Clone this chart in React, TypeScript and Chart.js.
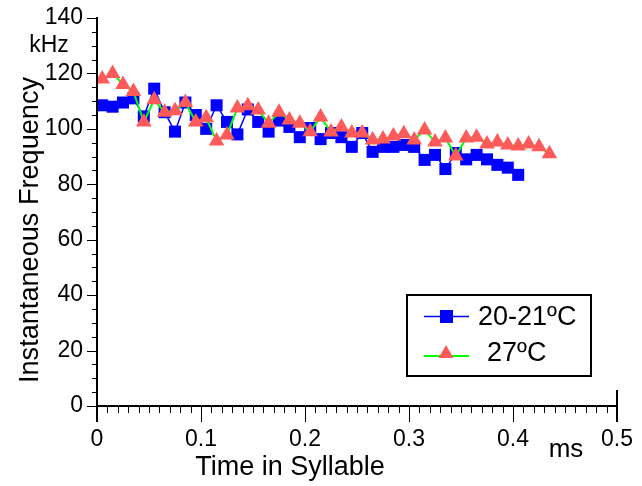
import React, { useEffect, useRef } from 'react';
import { Chart, registerables } from 'chart.js';

Chart.register(...registerables);

// Time in syllable (ms)
const times = [
  0.005, 0.015, 0.025, 0.035, 0.045, 0.055, 0.065, 0.075, 0.085, 0.095,
  0.105, 0.115, 0.125, 0.135, 0.145, 0.155, 0.165, 0.175, 0.185, 0.195,
  0.205, 0.215, 0.225, 0.235, 0.245, 0.255, 0.265, 0.275, 0.285, 0.295,
  0.305, 0.315, 0.325, 0.335, 0.345, 0.355, 0.365, 0.375, 0.385, 0.395,
  0.405, 0.415, 0.425, 0.435,
];

// 20-21ºC (kHz)
const coldValues = [
  108.5, 108, 109.5, 111, 104.5, 114.5, 106, 99, 109.5, 105,
  100, 108.5, 102.5, 98, 107, 102.5, 99, 103, 100.7, 97,
  100.3, 96.3, 98.5, 97, 93.5, 98.5, 91.7, 93.5, 93.5, 94.2,
  93.5, 88.8, 90.6, 85.5, 91.3, 89, 90.6, 89, 87, 86,
  83.4,
];

// 27ºC (kHz)
const warmValues = [
  118, 120, 116, 113.5, 102.5, 110.5, 106, 106.5, 109.5, 102.5,
  104, 95.6, 97.8, 107.5, 108.3, 106.8, 102, 106, 103.2, 102,
  99, 104.3, 98.9, 100.7, 98.5, 98.5, 96, 96.3, 97.4, 98.2,
  96, 99.6, 95.3, 96.7, 90.2, 96.7, 97, 94.5, 95.3, 94.2,
  93.8, 94.5, 93.5, 91,
];

const seriesLabels = ['20-21ºC', '27ºC'];
const xTitle = 'Time in Syllable';
const yTitle = 'Instantaneous Frequency';
const xUnit = 'ms';
const yUnit = 'kHz';

const FONT = '"Liberation Sans", Arial, sans-serif';
const BLUE = '#0000ff';
const GREEN = '#00ff00';
const RED = '#ff5a5a';

const decorPlugin = {
  id: 'decor',
  afterDraw(chart: any) {
    const ctx: CanvasRenderingContext2D = chart.ctx;
    const xs = chart.scales.x;
    const ys = chart.scales.y;
    const left = xs.getPixelForValue(0);
    const right = xs.getPixelForValue(0.5);
    const bottom = ys.getPixelForValue(0);
    const top = ys.getPixelForValue(140);
    ctx.save();
    ctx.strokeStyle = '#000';
    // ticks
    ctx.lineWidth = 1;
    for (let i = 0; i <= 50; i++) {
      const px = Math.round(xs.getPixelForValue(i / 100)) + 0.5;
      const len = i % 10 === 0 ? 16 : 7;
      ctx.beginPath();
      ctx.moveTo(px, bottom);
      ctx.lineTo(px, bottom + len);
      ctx.stroke();
    }
    for (let v = 0; v <= 140; v += 5) {
      const py = Math.round(ys.getPixelForValue(v)) + 0.5;
      const len = v % 20 === 0 ? 10 : 5;
      ctx.beginPath();
      ctx.moveTo(left, py);
      ctx.lineTo(left - len, py);
      ctx.stroke();
    }
    // axis lines
    ctx.lineWidth = 2;
    ctx.beginPath();
    ctx.moveTo(left, top - 1);
    ctx.lineTo(left, bottom + 16);
    ctx.moveTo(left - 1, bottom);
    ctx.lineTo(right + 1, bottom);
    ctx.moveTo(right, bottom - 16);
    ctx.lineTo(right, bottom + 16);
    ctx.stroke();

    // unit labels and titles
    ctx.fillStyle = '#000';
    ctx.textAlign = 'center';
    ctx.textBaseline = 'middle';
    ctx.font = `23px ${FONT}`;
    ctx.fillText(yUnit, 49, 46);
    ctx.font = `26px ${FONT}`;
    ctx.fillText(xUnit, 566, 450);
    ctx.font = `27px ${FONT}`;
    ctx.fillText(xTitle, 290, 468);
    // y title
    ctx.save();
    ctx.translate(31, 230);
    ctx.rotate(-Math.PI / 2);
    ctx.font = `27px ${FONT}`;
    const w = ctx.measureText(yTitle).width;
    ctx.scale(306 / w, 1);
    ctx.fillText(yTitle, 0, 0);
    ctx.restore();

    // legend
    const lx = 407, ly = 295, lw = 184, lh = 81;
    ctx.fillStyle = '#fff';
    ctx.fillRect(lx, ly, lw, lh);
    ctx.lineWidth = 2;
    ctx.strokeStyle = '#000';
    ctx.strokeRect(lx, ly, lw, lh);
    // row 1
    ctx.lineWidth = 1.5;
    ctx.strokeStyle = BLUE;
    ctx.beginPath();
    ctx.moveTo(424, 316.5);
    ctx.lineTo(469, 316.5);
    ctx.stroke();
    ctx.fillStyle = BLUE;
    ctx.fillRect(440, 310, 13, 13);
    // row 2
    ctx.strokeStyle = GREEN;
    ctx.lineWidth = 2;
    ctx.beginPath();
    ctx.moveTo(424, 356);
    ctx.lineTo(469, 356);
    ctx.stroke();
    ctx.fillStyle = RED;
    ctx.beginPath();
    ctx.moveTo(446, 345);
    ctx.lineTo(453.5, 358);
    ctx.lineTo(438.5, 358);
    ctx.closePath();
    ctx.fill();
    ctx.fillStyle = '#000';
    ctx.textAlign = 'left';
    ctx.font = `27px ${FONT}`;
    ctx.fillText(seriesLabels[0], 478, 318);
    ctx.fillText(seriesLabels[1], 487, 354);
    ctx.restore();
  },
};

const zeroPad = (s: any) => {
  s.paddingTop = 0;
  s.paddingBottom = 0;
  s.paddingLeft = 0;
  s.paddingRight = 0;
};

export default function App() {
  const ref = useRef<HTMLCanvasElement | null>(null);
  useEffect(() => {
    if (!ref.current) return;
    const chart = new Chart(ref.current, {
      type: 'line',
      data: {
        datasets: [
          {
            label: seriesLabels[0],
            data: coldValues.map((v, i) => ({ x: times[i], y: v })),
            borderColor: BLUE,
            backgroundColor: BLUE,
            borderWidth: 1.5,
            pointStyle: 'rect',
            pointRadius: 8.5,
            pointBorderWidth: 0,
            pointBackgroundColor: BLUE,
            order: 2,
          },
          {
            label: seriesLabels[1],
            data: warmValues.map((v, i) => ({ x: times[i], y: v })),
            borderColor: GREEN,
            backgroundColor: RED,
            borderWidth: 2,
            pointStyle: 'triangle',
            pointRadius: 9,
            pointBorderWidth: 0,
            pointBackgroundColor: RED,
            order: 1,
          },
        ],
      },
      options: {
        animation: false,
        responsive: false,
        layout: { padding: { left: 0, right: 25, top: 18, bottom: 0 } },
        plugins: { legend: { display: false }, tooltip: { enabled: false } },
        scales: {
          x: {
            type: 'linear',
            min: 0,
            max: 0.5,
            border: { display: false },
            grid: { display: false, drawTicks: false, tickLength: 0 },
            ticks: {
              stepSize: 0.1,
              padding: 20,
              color: '#000',
              font: { family: FONT, size: 23 },
              maxRotation: 0,
              callback: (v: any) => (Number(v) === 0 ? '0' : Number(v).toFixed(1)),
            },
            afterFit: (s: any) => { s.height = 80; zeroPad(s); },
          },
          y: {
            type: 'linear',
            min: 0,
            max: 140,
            border: { display: false },
            grid: { display: false, drawTicks: false, tickLength: 0 },
            ticks: {
              stepSize: 20,
              padding: 14,
              color: '#000',
              font: { family: FONT, size: 23 },
            },
            afterFit: (s: any) => { s.width = 97; zeroPad(s); },
          },
        },
      },
      plugins: [decorPlugin],
    });
    return () => chart.destroy();
  }, []);
  return (
    <div style={{ position: 'fixed', left: 0, top: 0, width: 642, height: 486, background: '#fff' }}>
      <canvas ref={ref} width={642} height={486} style={{ display: 'block' }} />
    </div>
  );
}
